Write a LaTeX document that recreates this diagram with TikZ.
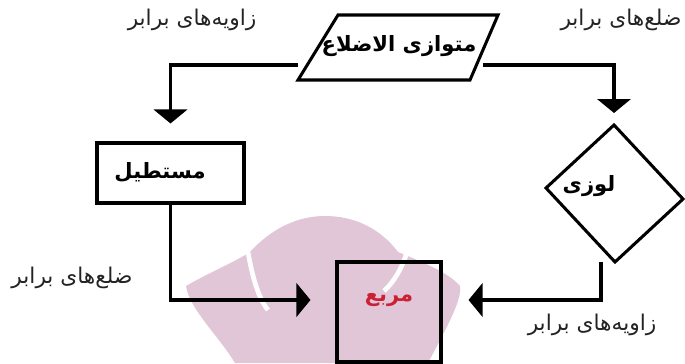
\documentclass[tikz,border=0pt]{standalone}
\usepackage{fontspec}
\usetikzlibrary{arrows.meta}
\TeXXeTstate=1
\newfontfamily\fa[Script=Arabic]{DejaVu Sans}
\definecolor{wmpink}{RGB}{225,198,216}
\definecolor{sqred}{RGB}{204,33,53}
\definecolor{labgray}{RGB}{35,35,35}
\tikzset{
  flow/.style={line width=2.6pt},
  tip/.style={-{Triangle[length=0.42cm,width=1cm]}},
  shapebox/.style={draw, line width=2.6pt, fill=white},
  rellabel/.style={font=\fa\fontsize{18.5}{22}\selectfont, text=labgray},
  shapelabel/.style={font=\fa\bfseries\fontsize{18}{22}\selectfont}
}
\begin{document}
\begin{tikzpicture}[x=0.03cm,y=-0.03cm]
        \useasboundingbox (0,0) rectangle (685,363);

        % watermark behind the square
        \fill[wmpink] (186,286) .. controls (210,272) and (235,262) .. (250,252)
            .. controls (272,228) and (298,216) .. (325,216)
            .. controls (354,216) and (380,228) .. (398,252)
            .. controls (422,262) and (448,272) .. (460,286)
            .. controls (462,300) and (448,325) .. (428,363)
            -- (235,363) .. controls (218,335) and (190,310) .. (186,286) -- cycle;
        \draw[white, line width=4pt] (248,252) .. controls (252,275) and (258,298) .. (268,310);
        \draw[white, line width=4pt] (407,252) .. controls (402,268) and (394,282) .. (384,291);

        % shapes
        \coordinate (ptl) at (338,15);
        \coordinate (ptr) at (498,15);
        \coordinate (pbr) at (470,80);
        \coordinate (pbl) at (298,80);
        \draw[line width=2.6pt, fill=white] (ptl) -- (ptr) -- (pbr) -- (pbl) -- cycle;
        \node[shapelabel] (para) at (399,46) {\beginR متوازی الاضلاع\endR};

        \node[shapebox, minimum width=4.41cm, minimum height=1.8cm] (rect) at (170.5,173) {};
        \node[shapelabel] (recttxt) at (160,172) {\beginR مستطیل\endR};

        \coordinate (dt) at (614,125);
        \coordinate (dr) at (683,199);
        \coordinate (db) at (615,262);
        \coordinate (dl) at (546,188);
        \draw[line width=2.6pt] (dt) -- (dr) -- (db) -- (dl) -- cycle;
        \node[shapelabel] (loz) at (589,186) {\beginR لوزی\endR};

        \node[draw, line width=2.6pt, minimum width=3.12cm, minimum height=3cm] (sq) at (389,312) {};
        \node[shapelabel, text=sqred] (sqtxt) at (389,300) {\beginR مربع\endR};

        % connectors
        \coordinate (pl) at (298,65);
        \coordinate (pr) at (483,65);
        \coordinate (dlow) at (601,262);
        \draw[flow, tip, shorten >=0.54cm] (pl) -| (rect.north);
        \draw[flow, tip, shorten >=0.36cm] (pr) -| (dt);
        \draw[flow, tip, shorten >=0.75cm] (rect.south) |- (sq.west |- sqtxt);
        \draw[flow, tip, shorten >=0.78cm] (dlow) |- (sq.east |- sqtxt);

        % edge labels
        \node[rellabel] (angtop) at (192,20) {\beginR زاویه‌های برابر\endR};
        \node[rellabel] (sidetop) at (621,20) {\beginR ضلع‌های برابر\endR};
        \node[rellabel] (sidebot) at (72,278) {\beginR ضلع‌های برابر\endR};
        \node[rellabel] (angbot) at (592,325) {\beginR زاویه‌های برابر\endR};

\end{tikzpicture}
\end{document}
